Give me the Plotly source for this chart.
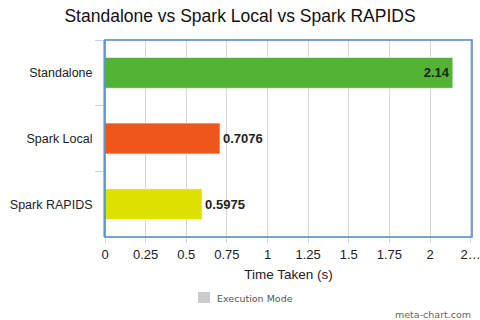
import plotly.graph_objects as go

categories = ["Standalone", "Spark Local", "Spark RAPIDS"]
values = [2.14, 0.7076, 0.5975]
labels = ["2.14", "0.7076", "0.5975"]
colors = ["#53b335", "#ee561c", "#dee000"]
text_pos = ["inside", "outside", "outside"]
tick_vals = [0, 0.25, 0.5, 0.75, 1, 1.25, 1.5, 1.75, 2, 2.25]
tick_text = ["0", "0.25", "0.5", "0.75", "1", "1.25", "1.5", "1.75", "2", "2…"]
legend_name = "Execution Mode"

FONT = "Liberation Sans, Arial, sans-serif"
SMALL = "DejaVu Sans, Verdana, sans-serif"

PW, PH = 480 - 105 - 8, 320 - 40 - 83  # plot area size in px


def px_x(px):
    return (px - 105) / PW


def px_y(py):
    return (320 - 83 - py) / PH


fig = go.Figure()
fig.add_trace(go.Bar(
    y=categories, x=values, orientation="h",
    marker=dict(color=colors, line=dict(color="rgba(255,255,255,0.6)", width=1)),
    width=0.47,
    text=[f"<b>{t}</b>" for t in labels],
    textposition=text_pos,
    insidetextanchor="end",
    textangle=0,
    textfont=dict(family=FONT, size=13, color="#222222"),
    cliponaxis=False,
    showlegend=False,
))

fig.update_layout(
    width=480, height=320,
    margin=dict(l=105, r=8, t=40, b=83),
    paper_bgcolor="white", plot_bgcolor="white",
    font=dict(family=FONT, color="#222222"),
    title=dict(text="Standalone vs Spark Local vs Spark RAPIDS",
               x=0.5, xanchor="center", y=1 - 16 / 320, yanchor="middle",
               font=dict(size=17.5, color="#111111")),
    bargap=0.53,
    showlegend=False,
    xaxis=dict(
        range=[0, 2.258], tickvals=tick_vals, ticktext=tick_text,
        ticklabeloverflow="allow", automargin=False,
        showgrid=True, gridcolor="#d6d6d6", gridwidth=1,
        ticks="outside", ticklen=5, tickcolor="#cfd8e6",
        tickfont=dict(size=13, color="#222222"),
        title=dict(text="Time Taken (s)", font=dict(size=13.5, color="#222222"), standoff=8),
        zeroline=False, showline=False,
    ),
    yaxis=dict(
        categoryorder="array", categoryarray=categories, autorange="reversed",
        showgrid=False, zeroline=False, automargin=False,
        showline=True, linecolor="#a9bfdd", linewidth=2,
        ticks="outside", ticklen=8, tickcolor="#c5d2e6", tickson="boundaries",
        ticklabelstandoff=8,
        tickfont=dict(size=12.5, color="#222222"),
    ),
    shapes=[
        dict(type="rect", xref="paper", yref="paper", x0=0, x1=1, y0=0, y1=1,
             line=dict(color="#4a86c8", width=1.5), layer="above"),
        dict(type="rect", xref="paper", yref="paper",
             x0=px_x(198), x1=px_x(210), y0=px_y(303), y1=px_y(292),
             fillcolor="#cccccc", line=dict(width=0)),
    ],
    annotations=[
        dict(text=legend_name, xref="paper", yref="paper",
             x=px_x(215), y=px_y(298), xanchor="left", yanchor="middle",
             showarrow=False, font=dict(family=SMALL, size=9.5, color="#555555")),
        dict(text="meta-chart.com", xref="paper", yref="paper",
             x=px_x(473), y=px_y(314), xanchor="right", yanchor="middle",
             showarrow=False, font=dict(family=SMALL, size=9.5, color="#666666")),
    ],
)

fig.write_html("out.html")
